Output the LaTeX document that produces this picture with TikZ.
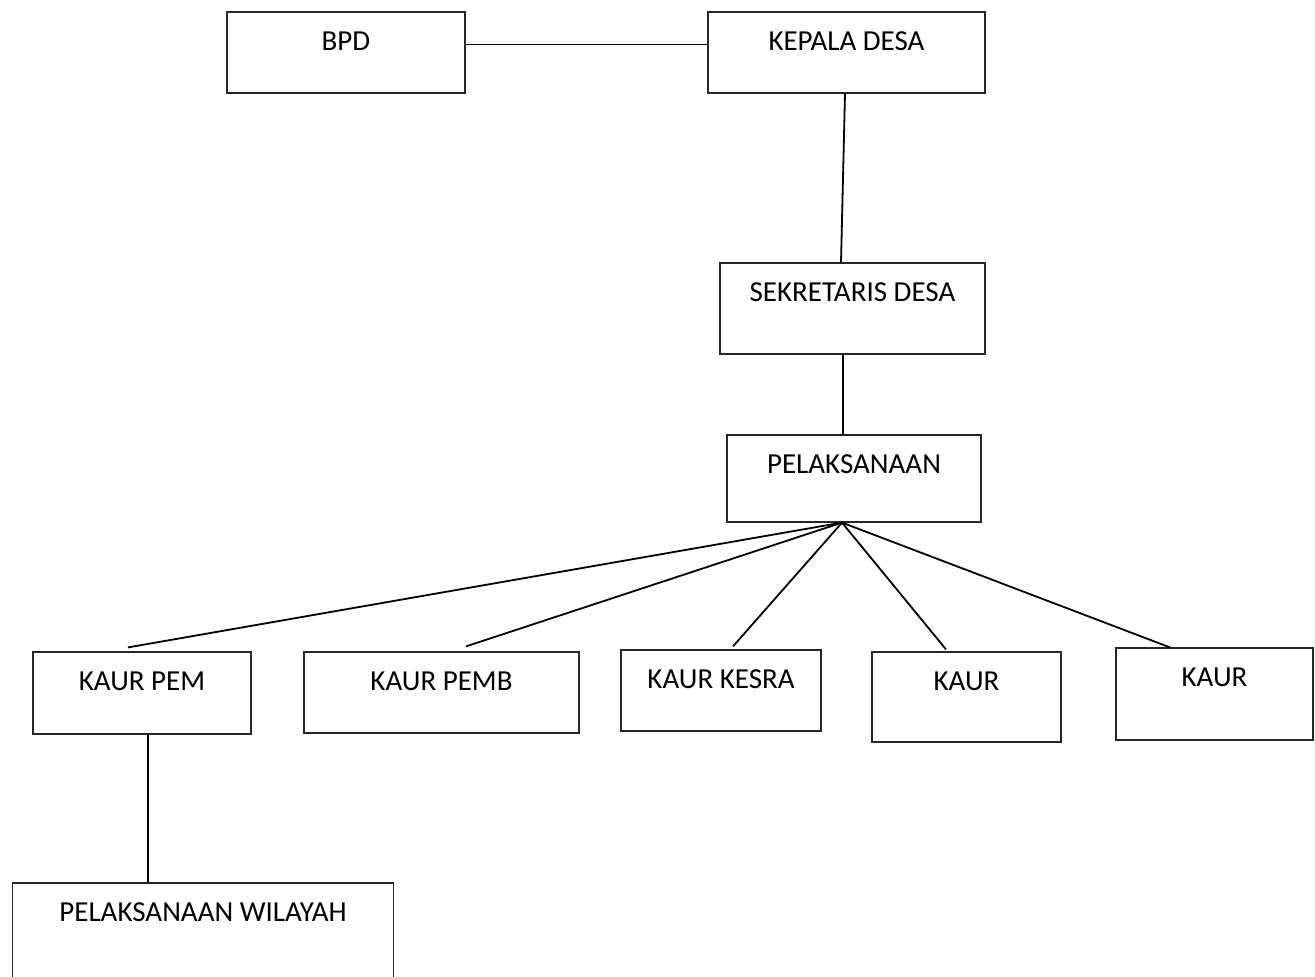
\documentclass[tikz,border=0pt]{standalone}
\usepackage{fontspec}
\usepackage{tikz}
\newfontfamily\orgfont{Carlito}
\tikzset{
  orgbox/.style={draw=black!85, line width=1.2pt, inner sep=0pt, fill=white},
  orglabel/.style={label={[font=\orgfont\fontsize{29}{33}\selectfont, anchor=base, yshift=-39pt]north:#1}},
  orgline/.style={line width=1.8pt, black}
}

\begin{document}
\begin{tikzpicture}[x=1pt, y=-1pt]
  \useasboundingbox (0,0) rectangle (1315,977);

  % Top level
  \node[orgbox, minimum width=238, minimum height=81, orglabel={BPD}] (bpd) at (346,52.5) {};
  \node[orgbox, minimum width=277, minimum height=81, orglabel={KEPALA DESA}] (kades) at (846.5,52.5) {};

  % Secretary and executive
  \node[orgbox, minimum width=265, minimum height=91, orglabel={SEKRETARIS DESA}] (sekdes) at (852.5,308.5) {};
  \node[orgbox, minimum width=254, minimum height=87, orglabel={PELAKSANAAN}] (pelak) at (854,478.5) {};

  % Kaur row
  \node[orgbox, minimum width=218, minimum height=82, orglabel={KAUR PEM}] (kpem) at (142,693) {};
  \node[orgbox, minimum width=275, minimum height=81, orglabel={KAUR PEMB}] (kpemb) at (441.5,692.5) {};
  \node[orgbox, minimum width=200, minimum height=81, orglabel={KAUR KESRA}] (kkesra) at (721,690.5) {};
  \node[orgbox, minimum width=189, minimum height=90, orglabel={KAUR}] (kaura) at (966.5,697) {};
  \node[orgbox, minimum width=197, minimum height=92, orglabel={KAUR}] (kaurb) at (1214.5,694) {};

  % Regional executive
  \node[orgbox, minimum width=381, minimum height=110, orglabel={PELAKSANAAN WILAYAH}] (wil) at (203,938) {};

  % Connections
  \draw[orgline] ([yshift=8]bpd.east) -- ([yshift=8]kades.west);
  \draw[orgline] ([xshift=-1.5]kades.south) -- ([xshift=-11.5]sekdes.north);
  \draw[orgline] ([xshift=-9.5]sekdes.south) -- ([xshift=-11]pelak.north);

  % Fan out to the kaur boxes
  \coordinate (hub) at ([xshift=-12]pelak.south);
  \draw[orgline] (hub) -- ([xshift=-14, yshift=4]kpem.north);
  \draw[orgline] (hub) -- ([xshift=24.5, yshift=5]kpemb.north);
  \draw[orgline] (hub) -- ([xshift=12, yshift=3]kkesra.north);
  \draw[orgline] (hub) -- ([xshift=-20.5, yshift=2]kaura.north);
  \draw[orgline] (hub) -- ([xshift=-44.5]kaurb.north);

  \draw[orgline] ([xshift=6]kpem.south) -- ([xshift=6]kpem.south |- wil.north);
\end{tikzpicture}
\end{document}
